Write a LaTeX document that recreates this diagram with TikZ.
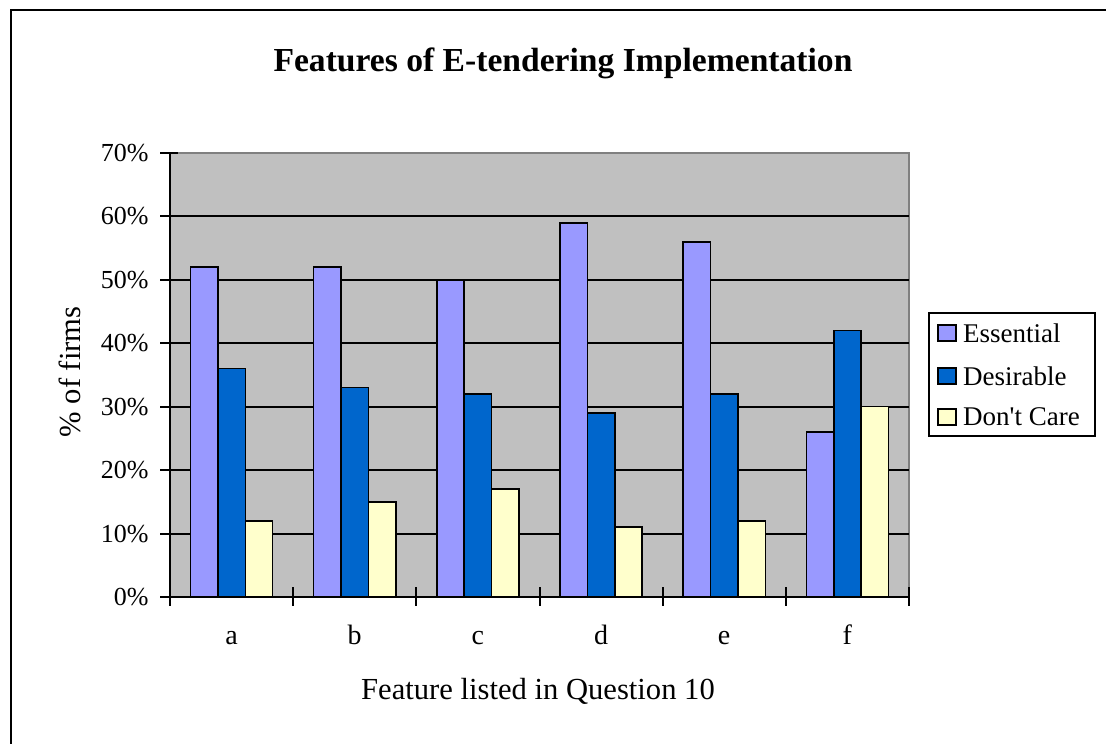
\documentclass[tikz,border=0pt]{standalone}
\usepackage{fontspec}
\setmainfont{Liberation Serif}
\usetikzlibrary{positioning}
\definecolor{essential}{HTML}{9999FF}
\definecolor{desirable}{HTML}{0066CC}
\definecolor{dontcare}{HTML}{FFFFCC}
\definecolor{plotbg}{HTML}{C0C0C0}
\definecolor{plotrim}{HTML}{808080}

\begin{document}
\begin{tikzpicture}[x=0.5pt,y=0.5pt]
  \tikzstyle{bar}=[draw=black,line width=0.75pt]
  \tikzstyle{rule}=[line width=1pt]
  \tikzstyle{lbl}=[inner sep=0pt,font=\fontsize{13}{15}\selectfont]
  \tikzstyle{swatch}=[draw=black,line width=0.75pt,minimum width=9pt,minimum height=8pt,inner sep=0pt]
  \useasboundingbox (0,0) rectangle (1106,743);

  % frame
  \draw[rule] (11,-10) -- (11,733) -- (1120,733);

  % plot area and grid
  \fill[plotbg] (170,146) rectangle (909,590);
  \draw[plotrim,rule] (170,590) -- (909,590) -- (909,146);
  \foreach \v in {1,...,6}
    \draw[rule] (170,146+\v*63.43) -- (909,146+\v*63.43);

  % bars
  \foreach \e/\d/\c [count=\i from 0] in {52/36/12, 52/33/15, 50/32/17, 59/29/11, 56/32/12, 26/42/30} {
    \pgfmathsetmacro\gx{190.5+\i*123.17}
    \draw[bar,fill=essential] (\gx,146) rectangle ++(27.4,\e*6.343);
    \draw[bar,fill=desirable] (\gx+27.4,146) rectangle ++(27.4,\d*6.343);
    \draw[bar,fill=dontcare] (\gx+54.8,146) rectangle ++(27.4,\c*6.343);
  }

  % axes
  \draw[rule] (170,590) -- (170,146) -- (909,146);
  \foreach \v in {0,...,7} {
    \draw[rule] (160,146+\v*63.43) -- (178,146+\v*63.43);
    \node[lbl,anchor=east] (tick\v) at (149,146+\v*63.43) {\ifnum\v=0 0\else\v0\fi\%};
  }
  \foreach \i in {0,...,6}
    \draw[rule] (170+\i*123.17,137) -- (170+\i*123.17,156);
  \foreach \f [count=\i from 0] in {a,b,c,d,e,f}
    \node[lbl,font=\fontsize{14}{17}\selectfont,anchor=base] (cat-\f) at (231.5+\i*123.17,98) {\f};

  % titles
  \node[inner sep=0pt,font=\fontsize{16.8}{20}\selectfont\bfseries] (title) at (563,680) {Features of E-tendering Implementation};
  \node[lbl,font=\fontsize{15.3}{18}\selectfont] (xlabel) at (538,52) {Feature listed in Question 10};
  \node[lbl,font=\fontsize{15.3}{18}\selectfont,rotate=90] (ylabel) at (70,371) {\% of firms};

  % legend
  \draw[rule] (929,307) rectangle (1095,430);
  \node[swatch,fill=essential] (sw-ess) at (947,410) {};
  \node[lbl,font=\fontsize{13.5}{16}\selectfont,right=3pt of sw-ess] (lg-ess) {Essential};
  \node[swatch,fill=desirable] (sw-des) at (947,367) {};
  \node[lbl,font=\fontsize{13.5}{16}\selectfont,right=3pt of sw-des] (lg-des) {Desirable};
  \node[swatch,fill=dontcare] (sw-dc) at (947,326) {};
  \node[lbl,font=\fontsize{13.5}{16}\selectfont,right=3pt of sw-dc] (lg-dc) {Don\textquotesingle t Care};
\end{tikzpicture}
\end{document}
